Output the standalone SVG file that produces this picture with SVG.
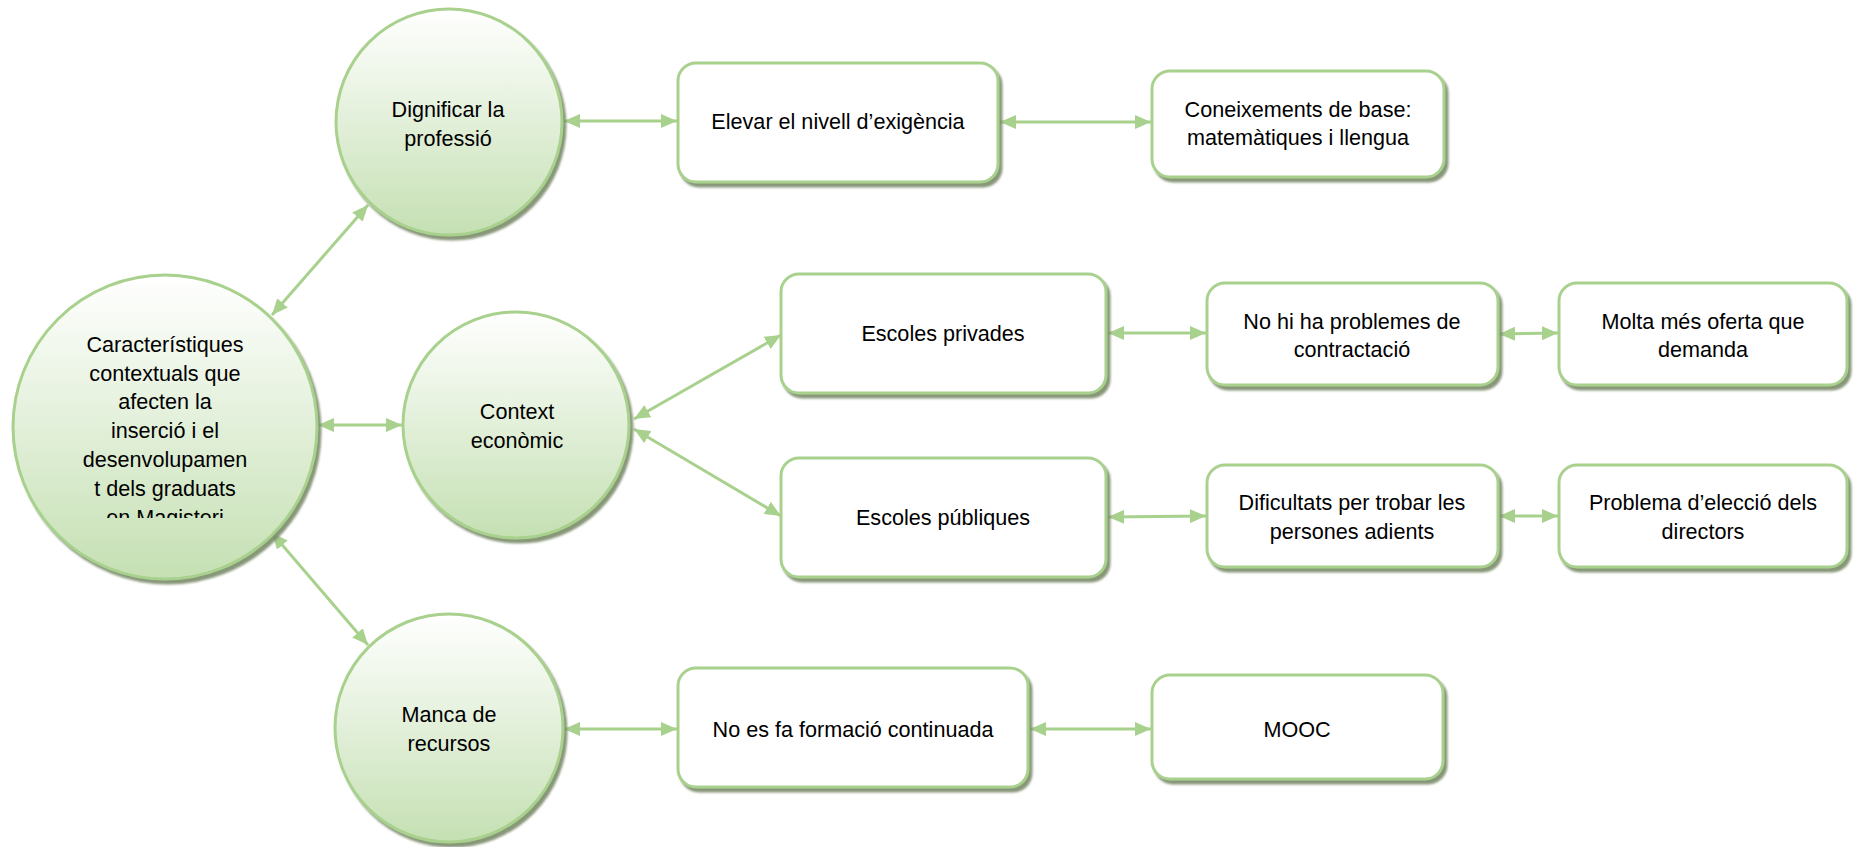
<svg xmlns="http://www.w3.org/2000/svg" width="1856" height="847" viewBox="0 0 1856 847">
<defs>
<style>
.c{stroke:#a9d18e;stroke-width:3;fill:url(#g);filter:url(#sh)}
.b{stroke:#a9d18e;stroke-width:3;fill:#ffffff;filter:url(#sh)}
.t{font-family:"Liberation Sans",Arial,sans-serif;font-size:21.6px;fill:#000;text-anchor:middle}
.k{stroke:#a9d18e;stroke-width:3;fill:none;marker-start:url(#a);marker-end:url(#a)}
</style>
<linearGradient id="g" x1="0" y1="0" x2="0" y2="1">
<stop offset="0" stop-color="#ffffff"/>
<stop offset="1" stop-color="#c5e0b3"/>
</linearGradient>
<filter id="sh" x="-10%" y="-10%" width="125%" height="125%">
<feDropShadow dx="3" dy="4" stdDeviation="1.2" flood-color="#7a8c6b" flood-opacity="0.9"/>
</filter>
<marker id="a" viewBox="0 0 16 14" refX="16" refY="7" markerWidth="16" markerHeight="14" markerUnits="userSpaceOnUse" orient="auto-start-reverse">
<path d="M0,0 L16,7 L0,14 Z" fill="#a9d18e"/>
</marker>
<clipPath id="cl"><rect x="0" y="300" width="340" height="218"/></clipPath>
</defs>
<rect width="1856" height="847" fill="#ffffff"/>

<g id="connectors">
<line class="k" x1="272" y1="315" x2="368" y2="205"/>
<line class="k" x1="318" y1="425" x2="402" y2="425"/>
<line class="k" x1="272" y1="533" x2="368" y2="645"/>
<line class="k" x1="564" y1="121" x2="677" y2="121"/>
<line class="k" x1="1000" y1="122" x2="1151" y2="122"/>
<line class="k" x1="634" y1="419" x2="781" y2="335"/>
<line class="k" x1="634" y1="429" x2="781" y2="516"/>
<line class="k" x1="1108" y1="333" x2="1206" y2="333"/>
<line class="k" x1="1499" y1="334" x2="1558" y2="333"/>
<line class="k" x1="1108" y1="517" x2="1206" y2="516"/>
<line class="k" x1="1499" y1="516" x2="1558" y2="516"/>
<line class="k" x1="564" y1="729" x2="677" y2="729"/>
<line class="k" x1="1030" y1="729" x2="1151" y2="729"/>
</g>

<g id="n-caracteristiques">
<circle class="c" cx="165" cy="427" r="152"/>
<g clip-path="url(#cl)">
<text class="t" x="165" y="352">Característiques</text>
<text class="t" x="165" y="381">contextuals que</text>
<text class="t" x="165" y="409">afecten la</text>
<text class="t" x="165" y="438">inserció i el</text>
<text class="t" x="165" y="467">desenvolupamen</text>
<text class="t" x="165" y="496">t dels graduats</text>
<text class="t" x="165" y="525">en Magisteri</text>
</g>
</g>

<g id="n-dignificar">
<circle class="c" cx="449" cy="122" r="113"/>
<text class="t" x="448" y="117">Dignificar la</text>
<text class="t" x="448" y="146">professió</text>
</g>

<g id="n-context">
<circle class="c" cx="516" cy="425" r="113"/>
<text class="t" x="517" y="419">Context</text>
<text class="t" x="517" y="448">econòmic</text>
</g>

<g id="n-manca">
<circle class="c" cx="449" cy="728" r="114"/>
<text class="t" x="449" y="722">Manca de</text>
<text class="t" x="449" y="751">recursos</text>
</g>

<g id="n-elevar">
<rect class="b" x="678" y="63" width="320" height="119" rx="18"/>
<text class="t" x="838" y="129">Elevar el nivell d’exigència</text>
</g>

<g id="n-coneixements">
<rect class="b" x="1152" y="71" width="292" height="106" rx="18"/>
<text class="t" x="1298" y="117">Coneixements de base:</text>
<text class="t" x="1298" y="145">matemàtiques i llengua</text>
</g>

<g id="n-privades">
<rect class="b" x="781" y="274" width="325" height="119" rx="18"/>
<text class="t" x="943" y="341">Escoles privades</text>
</g>

<g id="n-nohiha">
<rect class="b" x="1207" y="283" width="291" height="102" rx="18"/>
<text class="t" x="1352" y="329">No hi ha problemes de</text>
<text class="t" x="1352" y="357">contractació</text>
</g>

<g id="n-molta">
<rect class="b" x="1559" y="283" width="288" height="102" rx="18"/>
<text class="t" x="1703" y="329">Molta més oferta que</text>
<text class="t" x="1703" y="357">demanda</text>
</g>

<g id="n-publiques">
<rect class="b" x="781" y="458" width="325" height="119" rx="18"/>
<text class="t" x="943" y="525">Escoles públiques</text>
</g>

<g id="n-dificultats">
<rect class="b" x="1207" y="465" width="291" height="102" rx="18"/>
<text class="t" x="1352" y="510">Dificultats per trobar les</text>
<text class="t" x="1352" y="539">persones adients</text>
</g>

<g id="n-problema">
<rect class="b" x="1559" y="465" width="288" height="102" rx="18"/>
<text class="t" x="1703" y="510">Problema d’elecció dels</text>
<text class="t" x="1703" y="539">directors</text>
</g>

<g id="n-noesfa">
<rect class="b" x="678" y="668" width="350" height="119" rx="18"/>
<text class="t" x="853" y="737">No es fa formació continuada</text>
</g>

<g id="n-mooc">
<rect class="b" x="1152" y="675" width="291" height="104" rx="18"/>
<text class="t" x="1297" y="737">MOOC</text>
</g>
</svg>
